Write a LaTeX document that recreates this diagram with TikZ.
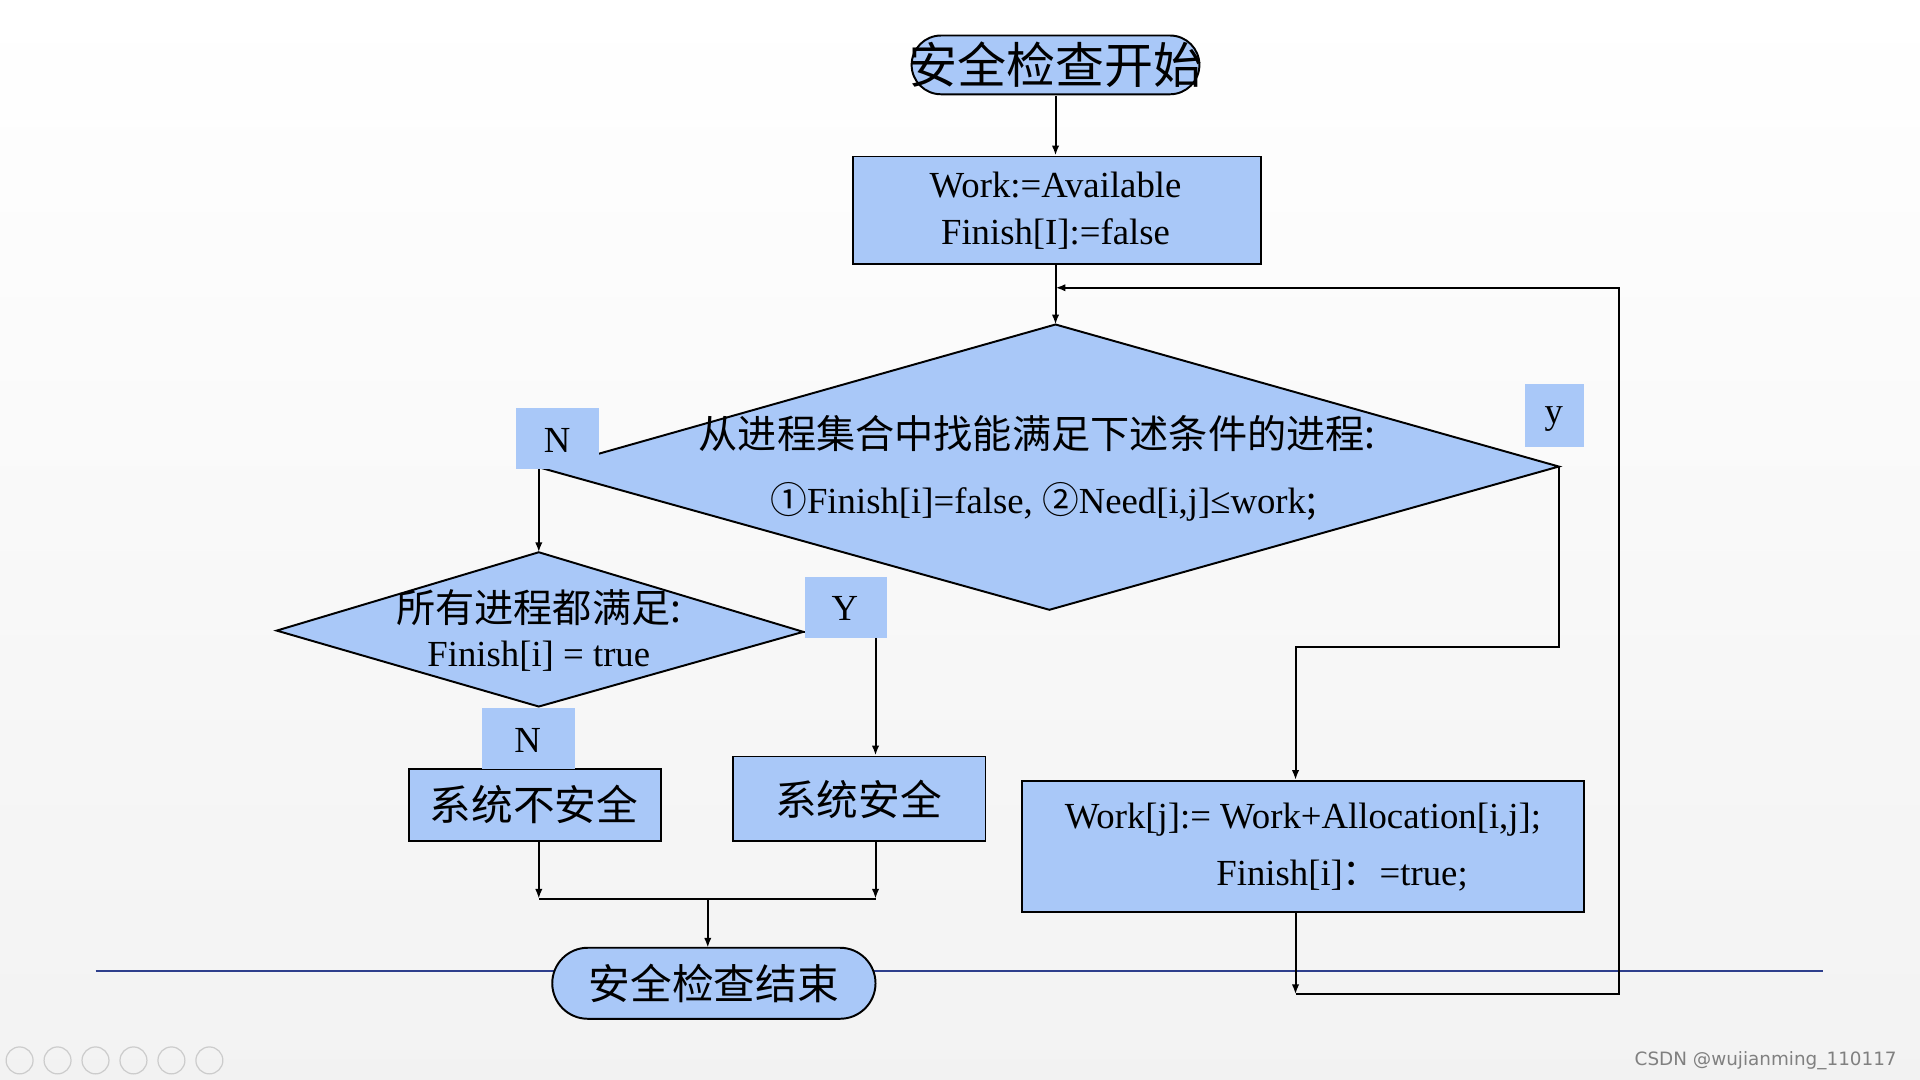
\documentclass[tikz,border=0pt]{standalone}
\usepackage{fontspec}
\setmainfont{Liberation Serif}
\newfontfamily\cjk{Noto Sans CJK SC}
\newfontfamily\dvs{DejaVu Sans}
\usetikzlibrary{shapes.misc,arrows.meta}
\definecolor{fb}{HTML}{A9C8F8}
\definecolor{navy}{HTML}{2E3F8C}
\begin{document}
\begin{tikzpicture}[x=0.5pt,y=-0.5pt,
  ln/.style={draw=black,line width=0.8pt},
  ar/.style={ln,-{Latex[length=4pt,width=3pt]}},
  box/.style={draw=black,line width=0.8pt,fill=fb,rectangle,inner sep=0,anchor=north west},
  lab/.style={fill=fb,inner sep=0,anchor=north west,font=\fontsize{15}{15}\selectfont},
  term/.style={rounded rectangle,draw=black,line width=0.8pt,fill=fb,inner sep=0}]
\useasboundingbox (0,0) rectangle (1568,882);
\shade[top color=white,bottom color=gray!10] (0,0) rectangle (1568,882);
% bottom line
\coordinate (hl1) at (78,793); \coordinate (hl2) at (1489,793);
\draw[navy,line width=0.8pt] (hl1) -- (hl2);
% start
\node[term,minimum width=117.5pt,minimum height=24pt] (start) at (862,53) {};
\node[font=\cjk\fontsize{20}{20}\selectfont] (startt) at (862,53) {安全检查开始};
% box1
\node[box,minimum width=166.5pt,minimum height=44pt] (b1) at (696,127) {};
\node[align=center,font=\fontsize{15}{19}\selectfont] (b1t) at (862,172) {Work:=Available\\Finish[I]:=false};
% diamond 1
\coordinate (d1t) at (862,265); \coordinate (d1r) at (1273,381);
\coordinate (d1b) at (857,498); \coordinate (d1l) at (445,383);
\path[fill=fb,draw=black,line width=0.8pt] (d1t) -- (d1r) -- (d1b) -- (d1l) -- cycle;
\node[font=\cjk\fontsize{16}{16}\selectfont] (d1a) at (847,354) {从进程集合中找能满足下述条件的进程:};
\node[font=\fontsize{15}{15}\selectfont] (d1c) at (852,410) {{\cjk ①}Finish[i]=false, {\cjk ②}Need[i,j]≤work{\cjk ;}};
% diamond 2
\coordinate (d2t) at (440,451); \coordinate (d2r) at (656,516);
\coordinate (d2b) at (440,577); \coordinate (d2l) at (226,515);
\path[fill=fb,draw=black,line width=0.8pt] (d2t) -- (d2r) -- (d2b) -- (d2l) -- cycle;
\node[font=\cjk\fontsize{16}{16}\selectfont] (d2a) at (440,496) {所有进程都满足:};
\node[font=\fontsize{15}{15}\selectfont] (d2c) at (440,536) {Finish[i] = true};
% boxes
\node[box,minimum width=103pt,minimum height=29.5pt] (unsafe) at (333,627) {};
\node[font=\cjk\fontsize{17}{17}\selectfont] (unsafet) at (436,657) {系统不安全};
\node[box,minimum width=103pt,minimum height=34.5pt] (safe) at (598,617) {};
\node[font=\cjk\fontsize{17}{17}\selectfont] (safet) at (701,653) {系统安全};
\node[box,minimum width=229.5pt,minimum height=53.5pt] (wb) at (834,637) {};
\node[font=\fontsize{15}{15}\selectfont] (wbt1) at (1064,669) {Work[j]:= Work+Allocation[i,j];};
\node[font=\fontsize{15}{15}\selectfont] (wbt2) at (1096,715) {Finish[i]{\cjk ：}=true;};
% end
\node[term,minimum width=132pt,minimum height=29pt] (endn) at (583,803) {};
\node[font=\cjk\fontsize{17}{17}\selectfont] (endt) at (583,803) {安全检查结束};
% labels
\node[lab,minimum width=34pt,minimum height=25pt] (N1) at (421,333) {};
\node[font=\fontsize{15}{15}\selectfont] (N1t) at (455,360) {N};
\node[lab,minimum width=24pt,minimum height=26pt] (y1) at (1245,313) {};
\node[font=\fontsize{15}{15}\selectfont] (y1t) at (1269,342) {y};
\node[lab,minimum width=33.5pt,minimum height=25pt] (Y1) at (657,471) {};
\node[font=\fontsize{15}{15}\selectfont] (Y1t) at (690,497) {Y};
\node[lab,minimum width=38pt,minimum height=25pt] (N2) at (393,578) {};
\node[font=\fontsize{15}{15}\selectfont] (N2t) at (431,605) {N};
% connectors
\coordinate (s1) at (862,78); \coordinate (s2) at (862,127);
\draw[ar] (s1) -- (s2);
\coordinate (b1b) at (862,215);
\draw[ar] (b1b) -- (d1t);
\coordinate (w1) at (1058,744); \coordinate (w2) at (1058,812);
\draw[ar] (w1) -- (w2);
\coordinate (lp1) at (1322,812); \coordinate (lp2) at (1322,235); \coordinate (lp3) at (862,235);
\draw[ar] (w2) -- (lp1) -- (lp2) -- (lp3);
\coordinate (r1) at (1273,528); \coordinate (r2) at (1058,528); \coordinate (r3) at (1058,637);
\draw[ar] (d1r) -- (r1) -- (r2) -- (r3);
\coordinate (n1a) at (440,383);
\draw[ar] (n1a) -- (d2t);
\coordinate (yl) at (657,516);
\draw[ln] (d2r) -- (yl);
\coordinate (ya) at (715,521); \coordinate (yb) at (715,617);
\draw[ar] (ya) -- (yb);
\coordinate (u1) at (440,686); \coordinate (u2) at (440,734);
\coordinate (v1) at (715,686); \coordinate (v2) at (715,734);
\draw[ar] (u1) -- (u2);
\draw[ar] (v1) -- (v2);
\draw[ln] (u2) -- (v2);
\coordinate (m1) at (578,734); \coordinate (m2) at (578,774);
\draw[ar] (m1) -- (m2);
% footer
\node[anchor=east,text=gray,font=\dvs\fontsize{7.5}{7.5}\selectfont] (csdn) at (1556,866) {CSDN @wujianming\_110117};
\foreach \i in {0,...,5}{\draw[gray!40,line width=0.5pt] (16+\i*31,866) circle (5.5pt);}
\end{tikzpicture}
\end{document}
